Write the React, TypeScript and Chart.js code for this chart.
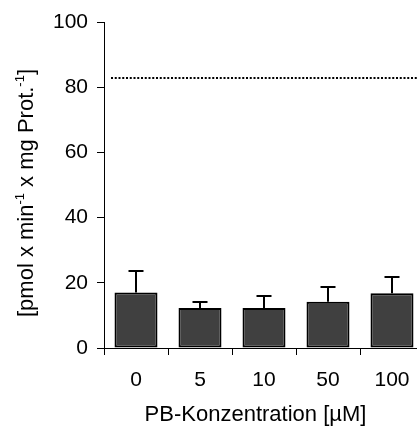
import React, { useEffect, useRef } from "react";
import { Chart, registerables } from "chart.js";

Chart.register(...registerables);

const categories = ["0", "5", "10", "50", "100"];
const meanValues = [17.0, 12.3, 12.3, 14.2, 16.8];
const sdValues = [6.7, 1.9, 3.7, 4.4, 5.0];
const referenceLevel = 82.8;
const yMin = 0;
const yMax = 100;
const yStep = 20;
const xTitle = "PB-Konzentration [µM]";
const yTitleParts: { text: string; sup: boolean }[] = [
  { text: "[pmol x min", sup: false },
  { text: "-1", sup: true },
  { text: " x mg Prot.", sup: false },
  { text: "-1", sup: true },
  { text: "]", sup: false },
];

const FONT = "'Liberation Sans', Arial, Helvetica, sans-serif";

const overlay = {
  id: "overlay",
  afterDatasetsDraw(chart: any) {
    const ctx: CanvasRenderingContext2D = chart.ctx;
    const y = chart.scales.y;
    const area = chart.chartArea;
    const meta = chart.getDatasetMeta(0);
    ctx.save();
    ctx.strokeStyle = "#000";
    ctx.lineWidth = 2;
    meta.data.forEach((bar: any, i: number) => {
      const cx = Math.round(bar.x);
      const top = y.getPixelForValue(meanValues[i]);
      const errTop = Math.round(y.getPixelForValue(meanValues[i] + sdValues[i]));
      ctx.beginPath();
      ctx.moveTo(cx, top);
      ctx.lineTo(cx, errTop);
      ctx.moveTo(cx - 7.5, errTop);
      ctx.lineTo(cx + 7.5, errTop);
      ctx.stroke();
    });
    const ry = Math.round(y.getPixelForValue(referenceLevel));
    ctx.setLineDash([2, 1.75]);
    ctx.lineWidth = 2;
    ctx.beginPath();
    ctx.moveTo(area.left + 7, ry);
    ctx.lineTo(area.right, ry);
    ctx.stroke();
    ctx.restore();
  },
  afterDraw(chart: any) {
    const ctx: CanvasRenderingContext2D = chart.ctx;
    const area = chart.chartArea;
    ctx.save();
    ctx.fillStyle = "#000";
    // x title
    ctx.font = `22px ${FONT}`;
    ctx.textAlign = "center";
    ctx.textBaseline = "middle";
    ctx.fillText(xTitle, area.left + 151.5, area.bottom + 67);
    // y title
    const mainFont = `22px ${FONT}`;
    const supFont = `13px ${FONT}`;
    let total = 0;
    for (const p of yTitleParts) {
      ctx.font = p.sup ? supFont : mainFont;
      total += ctx.measureText(p.text).width;
    }
    const cy = (area.top + area.bottom) / 2 + 8;
    ctx.translate(33, cy);
    ctx.rotate(-Math.PI / 2);
    ctx.textAlign = "left";
    ctx.textBaseline = "alphabetic";
    let x = -total / 2;
    for (const p of yTitleParts) {
      ctx.font = p.sup ? supFont : mainFont;
      ctx.fillText(p.text, x, p.sup ? -9 : 0);
      x += ctx.measureText(p.text).width;
    }
    ctx.restore();
  },
};

export default function App() {
  const ref = useRef<HTMLCanvasElement>(null);
  useEffect(() => {
    const canvas = ref.current!;
    const chart = new Chart(canvas, {
      type: "bar",
      data: {
        labels: categories,
        datasets: [
          {
            data: meanValues,
            backgroundColor: "#404040",
            borderColor: "#000",
            borderWidth: 2,
            borderSkipped: false,
            barPercentage: 0.672,
            categoryPercentage: 1,
          },
        ],
      },
      options: {
        responsive: false,
        animation: false,
        devicePixelRatio: 1,
        layout: { padding: { top: 22, left: 0, right: 0, bottom: 0 } },
        plugins: {
          legend: { display: false },
          tooltip: { enabled: false },
          title: { display: false },
        },
        scales: {
          x: {
            type: "category",
            offset: true,
            grid: {
              display: true,
              drawOnChartArea: false,
              drawTicks: true,
              tickLength: 7,
              color: "#000",
              lineWidth: 1,
              offset: true,
            },
            border: { display: true, color: "#000", width: 1 },
            ticks: {
              color: "#000",
              font: { family: FONT, size: 21 },
              padding: 13,
              maxRotation: 0,
              autoSkip: false,
            },
            afterFit: (s: any) => {
              s.height = 80;
            },
          },
          y: {
            min: yMin,
            max: yMax,
            ticks: {
              stepSize: yStep,
              color: "#000",
              font: { family: FONT, size: 21 },
              padding: 9,
            },
            grid: {
              display: true,
              drawOnChartArea: false,
              drawTicks: true,
              tickLength: 7,
              color: "#000",
              lineWidth: 1,
            },
            border: { display: true, color: "#000", width: 1 },
            afterFit: (s: any) => {
              s.width = 104;
            },
          },
        },
      },
      plugins: [overlay],
    });
    return () => chart.destroy();
  }, []);
  return (
    <div
      style={{
        position: "fixed",
        left: 0,
        top: 0,
        width: 417,
        height: 428,
        overflow: "hidden",
        background: "#fff",
      }}
    >
      <canvas
        ref={ref}
        width={424}
        height={428}
        style={{ display: "block", width: 424, height: 428 }}
      />
    </div>
  );
}
